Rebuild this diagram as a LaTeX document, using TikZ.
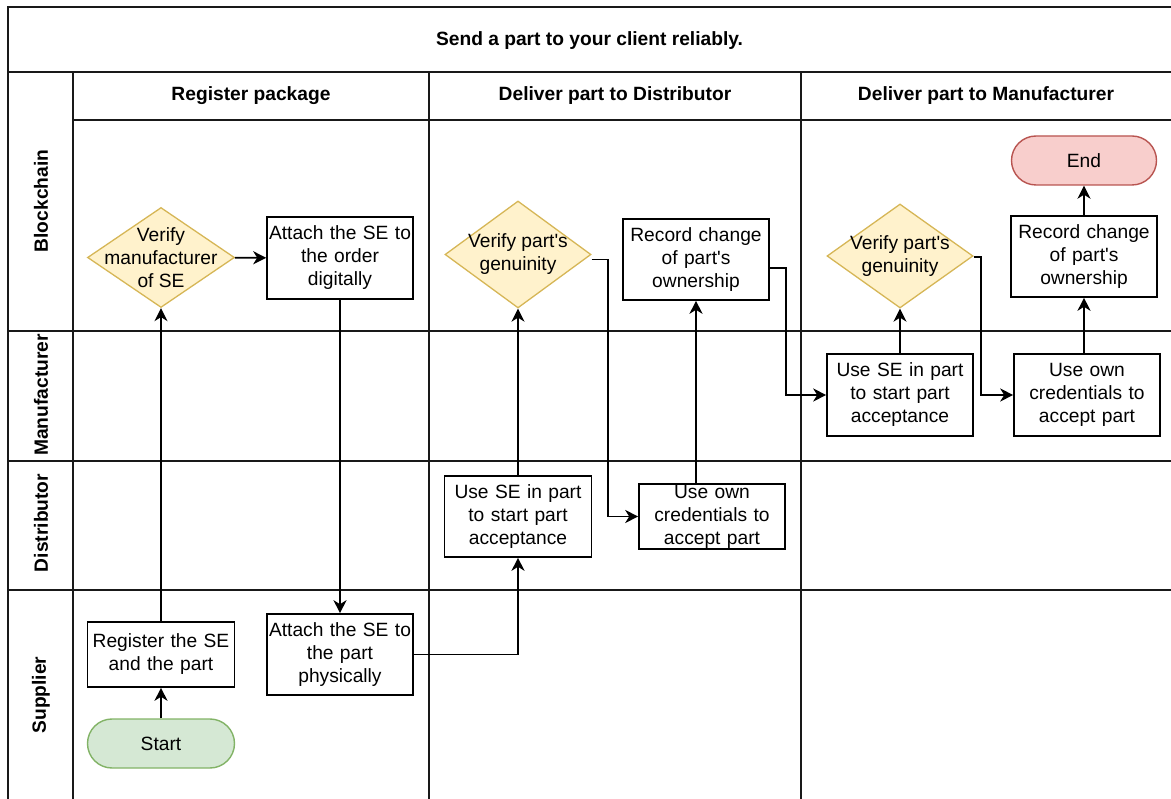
\documentclass[tikz,border=0pt]{standalone}
\usepackage{fontspec}
\setmainfont{Liberation Sans}
\usetikzlibrary{arrows.meta,shapes.geometric}

\definecolor{decfill}{HTML}{FFF2CC}
\definecolor{decline}{HTML}{D6B656}
\definecolor{startfill}{HTML}{D5E8D4}
\definecolor{startline}{HTML}{82B366}
\definecolor{endfill}{HTML}{F8CECC}
\definecolor{endline}{HTML}{B85450}

\newcommand{\bodyfont}{\fontsize{19.2}{23}\selectfont}
\newcommand{\apos}{\textquotesingle}

\begin{document}
\begin{tikzpicture}[x=1pt,y=-1pt,
  grid/.style={line width=2pt, black!90},
  box/.style={draw, line width=1.6pt, fill=white, minimum width=146pt,
    minimum height=81pt, inner sep=0pt, text width=146pt, align=center,
    font=\bodyfont},
  dia/.style={diamond, draw=decline, fill=decfill, line width=1.3pt,
    inner sep=0pt, minimum width=146pt, minimum height=104pt},
  diatext/.style={align=center, inner sep=0pt, font=\bodyfont},
  term/.style={draw, line width=1.4pt, rounded corners=24.5pt,
    minimum width=146pt, minimum height=49pt, inner sep=0pt, font=\bodyfont},
  head/.style={font=\bodyfont\bfseries, inner sep=0pt},
  lanelab/.style={font=\bodyfont\bfseries, inner sep=0pt, rotate=90},
  flow/.style={line width=1.8pt, -{Stealth[length=13pt,width=13pt,inset=4pt]}}
]
\useasboundingbox (0,0) rectangle (1171,799);
\clip (0,0) rectangle (1171,799);

% pool frame, lanes and phases
\draw[grid] (1175,7) -- (8,7) -- (8,805);
\draw[grid] (8,72) -- (1175,72);
\draw[grid] (73,120) -- (1175,120);
\draw[grid] (73,72) -- (73,805);
\draw[grid] (429,72) -- (429,805);
\draw[grid] (801,72) -- (801,805);
\draw[grid] (8,331) -- (1175,331);
\draw[grid] (8,461) -- (1175,461);
\draw[grid] (8,590) -- (1175,590);

% titles
\node[head] (title) at (589.5,41) {Send a part to your client reliably.};
\node[head] (ph1) at (251,96) {Register package};
\node[head] (ph2) at (615,96) {Deliver part to Distributor};
\node[head] (ph3) at (986,96) {Deliver part to Manufacturer};

\node[lanelab] (ln1) at (41,201) {Blockchain};
\node[lanelab] (ln2) at (41,395) {Manufacturer};
\node[lanelab] (ln3) at (41,523) {Distributor};
\node[lanelab] (ln4) at (41,695) {Supplier};

% supplier lane
\node[term, fill=startfill, draw=startline, minimum width=147pt] (start) at (161,743.5) {Start};
\node[box, minimum width=147pt, text width=147pt, minimum height=65pt] (reg) at (161,654.5) {Register the SE\\and the part};
\node[box] (att2) at (340,654.5) {Attach the SE to\\the part\\physically};

% blockchain lane
\node[dia, minimum width=147pt, minimum height=100pt] (d1) at (161,257.5) {};
\node[diatext] (d1t) at (d1) {Verify\\manufacturer\\of SE};
\node[box, minimum height=82pt] (att1) at (340,258) {Attach the SE to\\the order\\digitally};

\node[dia, minimum height=107pt] (d2) at (518,254.5) {};
\node[diatext] (d2t) at (d2) {Verify part\apos s\\genuinity};
\node[box] (rec1) at (696,259.5) {Record change\\of part\apos s\\ownership};

\node[dia] (d3) at (900,256) {};
\node[diatext] (d3t) at (d3) {Verify part\apos s\\genuinity};
\node[box] (rec2) at (1084,256.5) {Record change\\of part\apos s\\ownership};
\node[term, fill=endfill, draw=endline, minimum width=145pt] (end) at (1084,160.5) {End};

% distributor lane
\node[box, minimum width=147pt, text width=147pt] (use1) at (518,516.5) {Use SE in part\\to start part\\acceptance};
\node[box, minimum height=65pt] (cred1) at (712,516.5) {Use own\\credentials to\\accept part};

% manufacturer lane
\node[box, minimum height=82pt] (use2) at (900,395) {Use SE in part\\to start part\\acceptance};
\node[box, minimum height=82pt] (cred2) at (1087,395) {Use own\\credentials to\\accept part};

% flow
\draw[flow] (start) -- (reg);
\draw[flow] (reg) -- (d1);
\draw[flow] (d1) -- (att1);
\draw[flow] (att1) -- (att2);
\draw[flow] (att2.east) -| (use1.south);
\draw[flow] (use1) -- (d2);
\draw[flow] ([yshift=-5pt]d2.east) -- ++(16,0) |- (cred1.west);
\draw[flow] (rec1.south |- cred1.north) -- (rec1.south);
\draw[flow] ([yshift=-8.5pt]rec1.east) -- ++(16,0) |- (use2.west);
\draw[flow] (use2) -- (d3);
\draw[flow] ([yshift=-1pt]d3.east) -- ++(7,0) |- (cred2.west);
\draw[flow] (rec2.south |- cred2.north) -- (rec2.south);
\draw[flow] (rec2) -- (end);
\end{tikzpicture}
\end{document}
